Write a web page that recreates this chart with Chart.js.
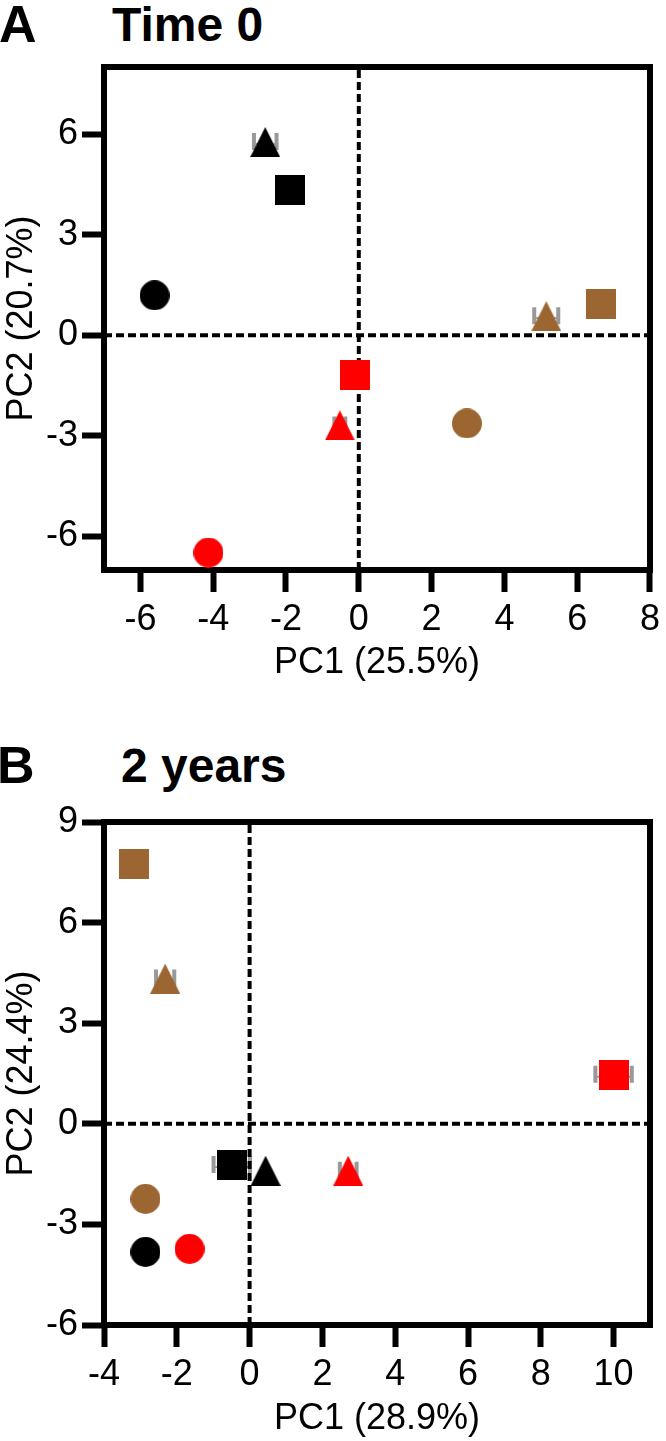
<!DOCTYPE html>
<html><head><meta charset="utf-8">
<script src="https://cdn.jsdelivr.net/npm/chart.js@4.4.1/dist/chart.umd.min.js"></script>
<style>
html,body{margin:0;padding:0;background:#fff;}
#wrap{position:relative;width:666px;height:1441px;overflow:hidden;background:#fff;}
canvas{position:absolute;left:0;}
.lbl{position:absolute;font-family:'Liberation Sans',Arial,sans-serif;font-weight:bold;color:#000;white-space:nowrap;}
</style></head><body>
<div id="wrap">
<div class="lbl" style="left:-1px;top:-2px;font-size:52px;line-height:52px;">A</div>
<div class="lbl" style="left:112px;top:1px;font-size:48px;line-height:48px;">Time 0</div>
<div class="lbl" style="left:-3px;top:739px;font-size:52px;line-height:52px;">B</div>
<div class="lbl" style="left:121px;top:742px;font-size:48px;line-height:48px;">2 years</div>
<canvas id="cA" width="666" height="700" style="top:0;width:666px;height:700px"></canvas>
<canvas id="cB" width="666" height="741" style="top:700px;width:666px;height:741px"></canvas>
</div>
<script>
// ---- groups ----
const groups = ['Black circle','Black triangle','Black square','Red circle','Red triangle','Red square','Brown circle','Brown triangle','Brown square'];
const groupColors = ['#000000','#000000','#000000','#FF0000','#FF0000','#FF0000','#9C6633','#9C6633','#9C6633'];
const groupShapes = ['circle','triangle','square','circle','triangle','square','circle','triangle','square'];

// ---- Panel A: Time 0 ----
const time0PC1 = [-5.61, -2.57, -1.89, -4.13, -0.52, -0.11, 2.97, 5.15, 6.65];
const time0PC2 = [1.19, 5.76, 4.33, -6.48, -2.69, -1.19, -2.63, 0.57, 0.93];
const time0PC1Err = [0, 0.31, 0, 0, 0.15, 0, 0, 0.33, 0];
const time0XTicks = [-6, -4, -2, 0, 2, 4, 6, 8];
const time0YTicks = [-6, -3, 0, 3, 6];
const time0XRange = [-7, 8];
const time0YRange = [-7, 8];

// ---- Panel B: 2 years ----
const years2PC1 = [-2.86, 0.44, -0.49, -1.65, 2.71, 10.0, -2.86, -2.32, -3.17];
const years2PC2 = [-3.82, -1.40, -1.23, -3.73, -1.40, 1.46, -2.24, 4.33, 7.76];
const years2PC1Err = [0, 0, 0.5, 0, 0.23, 0.5, 0, 0.25, 0];
const years2XTicks = [-4, -2, 0, 2, 4, 6, 8, 10];
const years2YTicks = [-6, -3, 0, 3, 6, 9];
const years2XRange = [-4, 11];
const years2YRange = [-6, 9];

function makeMarker(shape, color){
  const s = 30, c = document.createElement('canvas');
  c.width = s; c.height = s;
  const g = c.getContext('2d');
  g.fillStyle = color; g.beginPath();
  if (shape === 'circle') g.arc(s/2, s/2, s/2, 0, Math.PI*2);
  else if (shape === 'square') g.rect(0, 0, s, s);
  else { g.moveTo(s/2, 0); g.lineTo(s, s); g.lineTo(0, s); g.closePath(); }
  g.fill();
  return c;
}

const framePlugin = {
  id: 'frame',
  beforeDatasetsDraw(chart){
    const a = chart.chartArea, ctx = chart.ctx;
    ctx.save();
    ctx.strokeStyle = '#000'; ctx.lineWidth = 6;
    ctx.strokeRect(a.left, a.top, a.right - a.left, a.bottom - a.top);
    ctx.restore();
  }
};

function errPlugin(xs, ys, errs){
  return {
    id: 'errbars',
    beforeDatasetsDraw(chart){
      const ctx = chart.ctx, sx = chart.scales.x, sy = chart.scales.y;
      ctx.save();
      ctx.strokeStyle = '#999999';
      errs.forEach((e, i) => {
        if (!e) return;
        const y = sy.getPixelForValue(ys[i]);
        const x1 = sx.getPixelForValue(xs[i] - e), x2 = sx.getPixelForValue(xs[i] + e);
        ctx.lineWidth = 2;
        ctx.beginPath();
        ctx.moveTo(x1, y + 2); ctx.lineTo(x2, y + 2);
        ctx.stroke();
        ctx.lineWidth = 4;
        ctx.beginPath();
        ctx.moveTo(x1, y - 9); ctx.lineTo(x1, y + 8);
        ctx.moveTo(x2, y - 9); ctx.lineTo(x2, y + 8);
        ctx.stroke();
      });
      ctx.restore();
    }
  };
}

const FONT = "'Liberation Sans', Arial, sans-serif";

function buildChart(id, xs, ys, errs, xTicks, yTicks, xRange, yRange, xTitle, yTitle, padTop, xScaleH, xTitlePadBottom){
  const markers = groups.map((g, i) => makeMarker(groupShapes[i], groupColors[i]));
  const points = xs.map((x, i) => ({x: x, y: ys[i]}));
  const font = {family: FONT, size: 36};
  const dashed = {type: 'line', borderColor: '#000', borderWidth: 4, borderDash: [8, 4], pointRadius: 0, fill: false, order: 5, tension: 0};
  return new Chart(document.getElementById(id), {
    type: 'scatter',
    data: {datasets: [
      {label: 'groups', data: points, pointStyle: markers, pointRadius: 15, order: 0, clip: false},
      Object.assign({label: 'x=0', data: [{x: 0, y: yRange[0]}, {x: 0, y: yRange[1]}]}, dashed),
      Object.assign({label: 'y=0', data: [{x: xRange[0], y: 0}, {x: xRange[1], y: 0}]}, dashed)
    ]},
    options: {
      responsive: false, animation: false, events: [], devicePixelRatio: 1,
      layout: {padding: {left: 0, top: padTop, right: 12, bottom: 0}},
      plugins: {legend: {display: false}, tooltip: {enabled: false}},
      scales: {
        x: {
          type: 'linear', min: xRange[0], max: xRange[1],
          afterBuildTicks: s => { s.ticks = xTicks.map(v => ({value: v})); },
          afterFit: s => { s.height = xScaleH; },
          grid: {drawOnChartArea: false, drawTicks: true, tickLength: 22, tickWidth: 6, tickColor: '#000'},
          border: {display: false},
          ticks: {font: font, color: '#000', padding: 6, autoSkip: false, maxRotation: 0, callback: v => String(v)},
          title: {display: true, text: xTitle, font: font, color: '#000', padding: {top: 0, bottom: xTitlePadBottom}}
        },
        y: {
          type: 'linear', min: yRange[0], max: yRange[1],
          afterBuildTicks: s => { s.ticks = yTicks.map(v => ({value: v})); },
          afterFit: s => { s.width = 104; },
          grid: {drawOnChartArea: false, drawTicks: true, tickLength: 22, tickWidth: 6, tickColor: '#000'},
          border: {display: false},
          ticks: {font: font, color: '#000', padding: 4, autoSkip: false, callback: v => String(v)},
          title: {display: true, text: yTitle, font: font, color: '#000', padding: {top: 0, bottom: 0}}
        }
      }
    },
    plugins: [framePlugin, errPlugin(xs, ys, errs)]
  });
}

buildChart('cA', time0PC1, time0PC2, time0PC1Err, time0XTicks, time0YTicks, time0XRange, time0YRange,
  'PC1 (25.5%)', 'PC2 (20.7%)', 67, 130, 15);
buildChart('cB', years2PC1, years2PC2, years2PC1Err, years2XTicks, years2YTicks, years2XRange, years2YRange,
  'PC1 (28.9%)', 'PC2 (24.4%)', 122, 116, 0);
</script>
</body></html>
